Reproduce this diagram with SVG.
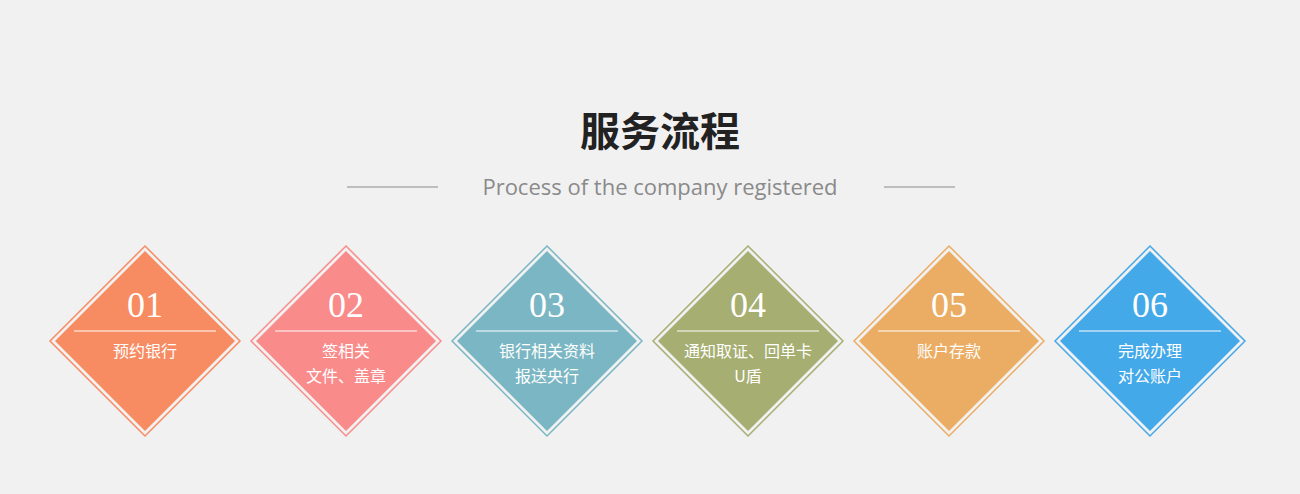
<svg xmlns="http://www.w3.org/2000/svg" width="1300" height="494" viewBox="0 0 1300 494">
<style>
.num{font-family:"Liberation Serif",serif;font-size:36px;fill:#fff;text-anchor:middle}
.lbl{font-family:"Noto Sans CJK SC",sans-serif;font-size:16px;fill:#fff;text-anchor:middle}
.sep{stroke:#fff;stroke-width:1}
</style>
<rect width="1300" height="494" fill="#f1f1f1"/>
<text x="660" y="146" font-family="Noto Sans CJK SC,sans-serif" font-size="40" font-weight="bold" fill="#222" text-anchor="middle">服务流程</text>
<text x="660" y="195" font-family="Open Sans,sans-serif" font-size="22" fill="#8a8a8a" text-anchor="middle">Process of the company registered</text>
<line x1="347" y1="187" x2="438" y2="187" stroke="#8a8a8a"/>
<line x1="884" y1="187" x2="955" y2="187" stroke="#8a8a8a"/>
<g id="n1" transform="translate(145,341)"><path d="M0-95L95 0 0 95-95 0Z" fill="none" stroke="#f78c62" stroke-width="1.5"/><path d="M0-90L90 0 0 90-90 0Z" fill="#f78c62"/><text class="num" y="-24">01</text><line class="sep" x1="-71" y1="-10" x2="71" y2="-10"/><text class="lbl" y="16">预约银行</text></g>
<g id="n2" transform="translate(346,341)"><path d="M0-95L95 0 0 95-95 0Z" fill="none" stroke="#f98b8b" stroke-width="1.5"/><path d="M0-90L90 0 0 90-90 0Z" fill="#f98b8b"/><text class="num" y="-24">02</text><line class="sep" x1="-71" y1="-10" x2="71" y2="-10"/><text class="lbl" y="16">签相关</text><text class="lbl" y="41">文件、盖章</text></g>
<g id="n3" transform="translate(547,341)"><path d="M0-95L95 0 0 95-95 0Z" fill="none" stroke="#7ab6c3" stroke-width="1.5"/><path d="M0-90L90 0 0 90-90 0Z" fill="#7ab6c3"/><text class="num" y="-24">03</text><line class="sep" x1="-71" y1="-10" x2="71" y2="-10"/><text class="lbl" y="16">银行相关资料</text><text class="lbl" y="41">报送央行</text></g>
<g id="n4" transform="translate(748,341)"><path d="M0-95L95 0 0 95-95 0Z" fill="none" stroke="#a6ae72" stroke-width="1.5"/><path d="M0-90L90 0 0 90-90 0Z" fill="#a6ae72"/><text class="num" y="-24">04</text><line class="sep" x1="-71" y1="-10" x2="71" y2="-10"/><text class="lbl" y="16">通知取证、回单卡</text><text class="lbl" y="41">U盾</text></g>
<g id="n5" transform="translate(949,341)"><path d="M0-95L95 0 0 95-95 0Z" fill="none" stroke="#ebad63" stroke-width="1.5"/><path d="M0-90L90 0 0 90-90 0Z" fill="#ebad63"/><text class="num" y="-24">05</text><line class="sep" x1="-71" y1="-10" x2="71" y2="-10"/><text class="lbl" y="16">账户存款</text></g>
<g id="n6" transform="translate(1150,341)"><path d="M0-95L95 0 0 95-95 0Z" fill="none" stroke="#44a9e8" stroke-width="1.5"/><path d="M0-90L90 0 0 90-90 0Z" fill="#44a9e8"/><text class="num" y="-24">06</text><line class="sep" x1="-71" y1="-10" x2="71" y2="-10"/><text class="lbl" y="16">完成办理</text><text class="lbl" y="41">对公账户</text></g>
<g id="connectors"/>
</svg>
